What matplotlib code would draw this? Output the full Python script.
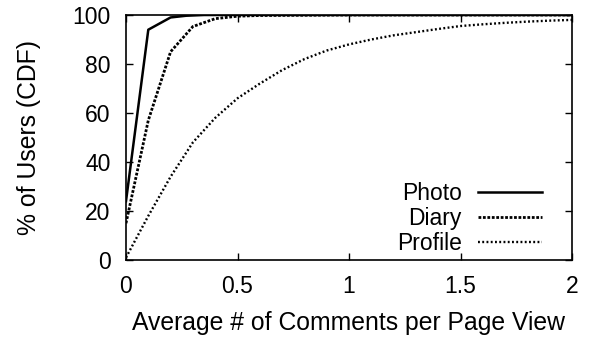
import matplotlib
matplotlib.use('Agg')
import matplotlib.pyplot as plt

plt.rcParams['font.family'] = ['Liberation Sans', 'DejaVu Sans']

# Values
photo_x = [0, 0.1, 0.2, 0.27, 0.35, 0.5, 1.0, 1.5, 2.0]
photo_y = [24, 94, 99, 99.7, 100, 100, 100, 100, 100]

diary_x = [0, 0.1, 0.2, 0.3, 0.4, 0.5, 0.6, 1.0, 1.5, 2.0]
diary_y = [15, 57, 85, 95.3, 98.5, 99.5, 99.8, 100, 100, 100]

profile_x = [0, 0.1, 0.2, 0.3, 0.4, 0.5, 0.6, 0.7, 0.8, 0.9, 1.0,
             1.1, 1.2, 1.3, 1.4, 1.5, 1.6, 1.7, 1.8, 1.9, 2.0]
profile_y = [1, 18, 34, 48, 58, 66, 72, 77.5, 82, 85.5, 88,
             90, 91.7, 93, 94.3, 95.5, 96.2, 96.8, 97.3, 97.7, 98]

fig = plt.figure(figsize=(5.92, 3.41), dpi=100)
ax = fig.add_axes([126 / 592, 81 / 341, 446 / 592, 245 / 341])

ax.plot(photo_x, photo_y, color='black', lw=1.8, label='Photo')
ax.plot(diary_x, diary_y, color='black', lw=2, linestyle=(0, (1.0, 0.6)), label='Diary')
ax.plot(profile_x, profile_y, color='black', lw=1.7, linestyle=(0, (0.8, 1.0)), label='Profile')

ax.set_xlim(0, 2)
ax.set_ylim(0, 100)
ax.set_xticks([0, 0.5, 1, 1.5, 2])
ax.set_xticklabels(['0', '0.5', '1', '1.5', '2'])
ax.set_yticks([0, 20, 40, 60, 80, 100])
ax.tick_params(direction='in', top=True, right=True, labelsize=16.5, length=5, width=1)
ax.tick_params(axis='x', pad=11)
ax.tick_params(axis='y', pad=11)
for s in ax.spines.values():
    s.set_linewidth(1.2)

ax.set_xlabel('Average # of Comments per Page View', fontsize=17.8, labelpad=9)
ax.set_ylabel('% of Users (CDF)', fontsize=17.8, labelpad=23)

ax.legend(loc='lower right', bbox_to_anchor=(0.933, 0.02), frameon=False,
          markerfirst=False, fontsize=16.5, handlelength=2.8, labelspacing=0.08,
          borderpad=0, borderaxespad=0, handletextpad=0.7)

fig.savefig('out.png', dpi=100)
